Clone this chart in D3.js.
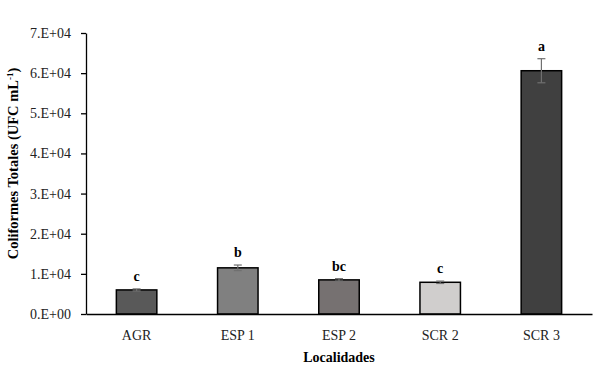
<!DOCTYPE html>
<html>
<head>
<meta charset="utf-8">
<script src="https://cdn.jsdelivr.net/npm/d3@7"></script>
<style>
  body { margin: 0; background: #fff; }
  text { font-family: "Liberation Serif", "DejaVu Serif", serif; }
</style>
</head>
<body>
<div id="chart"></div>
<script>
// data
const categories = ["AGR", "ESP 1", "ESP 2", "SCR 2", "SCR 3"];
const values = [6000, 11500, 8500, 7900, 60600];
const errors = [250, 700, 300, 300, 3000];
const letters = ["c", "b", "bc", "c", "a"];
const colors = ["#595959", "#808080", "#767171", "#d0cecd", "#404040"];
const yTicks = [0, 10000, 20000, 30000, 40000, 50000, 60000, 70000];
const yTickLabels = ["0.E+00", "1.E+04", "2.E+04", "3.E+04", "4.E+04", "5.E+04", "6.E+04", "7.E+04"];

const width = 599, height = 371;
const margin = { top: 33, right: 7, bottom: 57, left: 86 };
const innerW = width - margin.left - margin.right;
const innerH = height - margin.top - margin.bottom;

const svg = d3.select("#chart").append("svg")
  .attr("width", width)
  .attr("height", height);

const g = svg.append("g")
  .attr("transform", "translate(" + margin.left + "," + margin.top + ")");

const x = d3.scaleBand().domain(categories).range([0, innerW])
  .paddingInner(0.6).paddingOuter(0.3);
const y = d3.scaleLinear().domain([0, 70000]).range([innerH, 0]);

// bars
g.selectAll("rect.bar")
  .data(values)
  .join("rect")
  .attr("class", "bar")
  .attr("x", (d, i) => x(categories[i]))
  .attr("y", d => y(d))
  .attr("width", x.bandwidth())
  .attr("height", d => innerH - y(d))
  .attr("fill", (d, i) => colors[i])
  .attr("stroke", "#000")
  .attr("stroke-width", 1.5);

// error bars
const eb = g.selectAll("g.err")
  .data(values)
  .join("g")
  .attr("class", "err")
  .attr("transform", (d, i) => "translate(" + (x(categories[i]) + x.bandwidth() / 2) + ",0)");

eb.append("line")
  .attr("y1", (d, i) => y(d - errors[i]))
  .attr("y2", (d, i) => y(d + errors[i]))
  .attr("stroke", "#707070").attr("stroke-width", 1.2);
eb.append("line")
  .attr("x1", -4).attr("x2", 4)
  .attr("y1", (d, i) => y(d + errors[i])).attr("y2", (d, i) => y(d + errors[i]))
  .attr("stroke", "#707070").attr("stroke-width", 1.2);
eb.append("line")
  .attr("x1", -4).attr("x2", 4)
  .attr("y1", (d, i) => y(d - errors[i])).attr("y2", (d, i) => y(d - errors[i]))
  .attr("stroke", "#707070").attr("stroke-width", 1.2);

// significance letters
g.selectAll("text.letter")
  .data(values)
  .join("text")
  .attr("class", "letter")
  .attr("x", (d, i) => x(categories[i]) + x.bandwidth() / 2)
  .attr("y", (d, i) => y(d + errors[i]) - 8)
  .attr("text-anchor", "middle")
  .style("font-size", "14px")
  .style("font-weight", "bold")
  .text((d, i) => letters[i]);

// y axis
const yAxis = g.append("g")
  .call(d3.axisLeft(y).tickValues(yTicks).tickSize(5).tickSizeOuter(0)
    .tickFormat((d, i) => yTickLabels[i]));
yAxis.select(".domain").attr("stroke", "#000").attr("stroke-width", 1.3);
yAxis.selectAll(".tick line").attr("stroke", "#000").attr("stroke-width", 1.3);
yAxis.selectAll(".tick text")
  .attr("x", -15)
  .style("font-size", "14px")
  .attr("fill", "#222");

// x axis
const xAxis = g.append("g")
  .attr("transform", "translate(0," + innerH + ")")
  .call(d3.axisBottom(x).tickSize(0).tickSizeOuter(0));
xAxis.select(".domain").attr("stroke", "#000").attr("stroke-width", 1.3);
xAxis.selectAll(".tick text")
  .attr("dy", "1em").attr("y", 12)
  .style("font-size", "14px")
  .attr("fill", "#222");

// axis titles
svg.append("text")
  .attr("x", margin.left + innerW / 2)
  .attr("y", 362)
  .attr("text-anchor", "middle")
  .style("font-size", "14px")
  .style("font-weight", "bold")
  .text("Localidades");

const yt = svg.append("text")
  .attr("transform", "translate(18," + (margin.top + innerH / 2 - 10) + ") rotate(-90)")
  .attr("text-anchor", "middle")
  .style("font-size", "14.5px")
  .style("font-weight", "bold");
yt.append("tspan").text("Coliformes Totales (UFC mL");
yt.append("tspan").attr("dy", -5).style("font-size", "9px").text("-1");
yt.append("tspan").attr("dy", 5).text(")");
</script>
</body>
</html>
